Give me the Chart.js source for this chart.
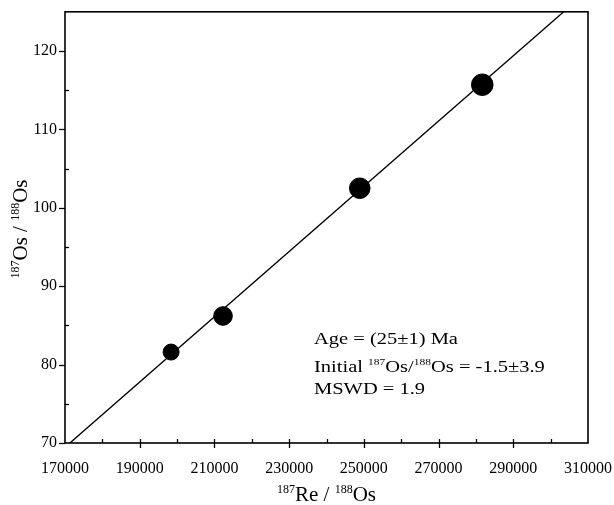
<!DOCTYPE html>
<html>
<head>
    <title>Re-Os isochron</title>
    <script src="https://cdn.jsdelivr.net/npm/chart.js"></script>
    <style>
        html, body { margin: 0; padding: 0; background: #fff; }
        .container { width: 614px; height: 505px; }
    </style>
</head>
<body>
    <div class="container">
        <canvas id="isoChart" width="614" height="505"></canvas>
    </div>
    <script>
        const reOs = [198400, 212300, 248900, 281700];
        const osOs = [81.6, 86.2, 102.5, 115.7];
        const pointSize = [8, 9.3, 10.3, 10.8];

        // isochron line end points
        const lineRe = [171300, 303500];
        const lineOs = [70, 125];

        // axis ranges / ticks
        const xMin = 170000, xMax = 310000, xStep = 10000, xLabelEvery = 20000;
        const yMin = 70, yMax = 125, yStep = 5, yLabelEvery = 10;

        // text
        const xTitle = [['187', true], ['Re / ', false], ['188', true], ['Os', false]];
        const yTitle = [['187', true], ['Os / ', false], ['188', true], ['Os', false]];
        const noteLines = [
            [['Age = (25\u00b11) Ma', false]],
            [['Initial ', false], ['187', true], ['Os/', false], ['188', true], ['Os = -1.5\u00b13.9', false]],
            [['MSWD = 1.9', false]]
        ];

        const FONT = '"Liberation Serif", "Times New Roman", serif';

        // text made of normal + superscript pieces, starting at x (left), baseline y
        function richWidth(ctx, parts, size, supSize) {
            let w = 0;
            parts.forEach(([t, sup]) => {
                ctx.font = (sup ? supSize : size) + 'px ' + FONT;
                w += ctx.measureText(t).width;
            });
            return w;
        }
        function drawRich(ctx, parts, x, y, size, supSize, rise) {
            ctx.textBaseline = 'alphabetic';
            ctx.textAlign = 'left';
            parts.forEach(([t, sup]) => {
                ctx.font = (sup ? supSize : size) + 'px ' + FONT;
                ctx.fillText(t, x, sup ? y - rise : y);
                x += ctx.measureText(t).width;
            });
        }

        const framePlugin = {
            id: 'frame',
            afterDatasetsDraw(chart) {
                const ctx = chart.ctx;
                const a = chart.chartArea;
                const xs = chart.scales.x, ys = chart.scales.y;
                ctx.save();
                ctx.strokeStyle = '#000';
                ctx.lineWidth = 1.6;
                ctx.strokeRect(a.left, a.top, a.right - a.left, a.bottom - a.top);

                // x tick marks
                ctx.lineWidth = 1.3;
                xs.ticks.forEach(t => {
                    if (t.value === xMin || t.value === xMax) return;
                    const px = Math.round(xs.getPixelForValue(t.value)) + 0.5;
                    const major = (t.value - xMin) % xLabelEvery === 0;
                    ctx.beginPath();
                    ctx.moveTo(px, a.bottom - 4);
                    ctx.lineTo(px, a.bottom + (major ? 5 : 0));
                    ctx.stroke();
                });
                // y tick marks
                ys.ticks.forEach(t => {
                    if (t.value === yMax) return;
                    const py = Math.round(ys.getPixelForValue(t.value)) + 0.5;
                    const major = t.value % yLabelEvery === 0;
                    ctx.beginPath();
                    ctx.moveTo(a.left + (major ? -6 : 4), py);
                    ctx.lineTo(a.left, py);
                    ctx.stroke();
                });

                ctx.fillStyle = '#000';
                // x title
                const cx = (a.left + a.right) / 2;
                const wx = richWidth(ctx, xTitle, 21, 12);
                drawRich(ctx, xTitle, cx - wx / 2, 501, 21, 12, 8);
                // y title, rotated
                ctx.save();
                ctx.translate(27, 229);
                ctx.rotate(-Math.PI / 2);
                const wy = richWidth(ctx, yTitle, 21, 12);
                drawRich(ctx, yTitle, -wy / 2, 0, 21, 12, 8);
                ctx.restore();

                // fit results (text in the figure is stretched sideways)
                const lineY = [344, 372, 394];
                ctx.save();
                ctx.translate(314, 0);
                ctx.scale(1.28, 1);
                noteLines.forEach((parts, i) => {
                    drawRich(ctx, parts, 0, lineY[i], 16, 9, 7);
                });
                ctx.restore();
                ctx.restore();
            }
        };

        const ctx = document.getElementById('isoChart').getContext('2d');
        new Chart(ctx, {
            type: 'scatter',
            data: {
                datasets: [{
                    label: 'isochron',
                    data: lineRe.map((x, i) => ({ x: x, y: lineOs[i] })),
                    showLine: true,
                    borderColor: '#000',
                    borderWidth: 1.4,
                    pointRadius: 0,
                    order: 2
                }, {
                    label: 'samples',
                    data: reOs.map((x, i) => ({ x: x, y: osOs[i] })),
                    backgroundColor: '#000',
                    borderColor: '#000',
                    pointRadius: pointSize,
                    order: 1
                }]
            },
            options: {
                responsive: false,
                animation: false,
                layout: { padding: { top: 10, right: 26, left: 0, bottom: 0 } },
                plugins: {
                    legend: { display: false },
                    tooltip: { enabled: false }
                },
                scales: {
                    x: {
                        type: 'linear',
                        min: xMin,
                        max: xMax,
                        grid: { display: false, drawTicks: false },
                        border: { display: false },
                        afterFit(scale) {
                            scale.height = 62;
                            scale.paddingLeft = 0;
                            scale.paddingRight = 0;
                        },
                        ticks: {
                            stepSize: xStep,
                            autoSkip: false,
                            maxRotation: 0,
                            padding: 16,
                            color: '#000',
                            font: { family: FONT, size: 16 },
                            callback: v => ((v - xMin) % xLabelEvery === 0 ? String(v) : '')
                        }
                    },
                    y: {
                        type: 'linear',
                        min: yMin,
                        max: yMax,
                        grid: { display: false, drawTicks: false },
                        border: { display: false },
                        afterFit(scale) {
                            scale.width = 65;
                            scale.paddingTop = 0;
                            scale.paddingBottom = 0;
                        },
                        ticks: {
                            stepSize: yStep,
                            autoSkip: false,
                            padding: 8,
                            color: '#000',
                            font: { family: FONT, size: 16 },
                            callback: v => (v % yLabelEvery === 0 ? String(v) : '')
                        }
                    }
                }
            },
            plugins: [framePlugin]
        });
    </script>
</body>
</html>
